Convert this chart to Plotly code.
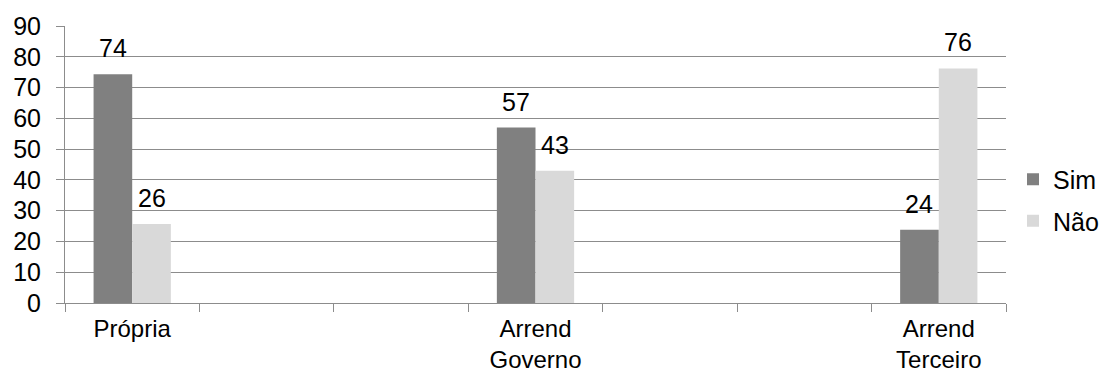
import plotly.graph_objects as go

# Category slots on the axis (the original chart has 7 category slots, only 3 labelled/with data)
axis_categories = ["Própria", " ", "  ", "Arrend<br>Governo", "   ", "    ", "Arrend<br>Terceiro"]
sim_values = [74.3, None, None, 57.0, None, None, 23.8]
nao_values = [25.7, None, None, 43.0, None, None, 76.2]
series_names = ["Sim", "Não"]
y_ticks = [0, 10, 20, 30, 40, 50, 60, 70, 80, 90]

SIM_COLOR = "#808080"
NAO_COLOR = "#D9D9D9"
GRID = "#8C8C8C"
FONT = "Liberation Sans, Arial, sans-serif"
FS = 25

W, H = 1104, 376
ML, MR, MT, MB = 65, 98, 26, 73
BARGAP = 0.425

fig = go.Figure()
fig.add_bar(x=axis_categories, y=sim_values, name=series_names[0],
            marker=dict(color=SIM_COLOR, line=dict(width=0)), legendgroup="a")
fig.add_bar(x=axis_categories, y=nao_values, name=series_names[1],
            marker=dict(color=NAO_COLOR, line=dict(width=0)), legendgroup="b")

# data labels above bars
plot_w = W - ML - MR
cat_w = plot_w / len(axis_categories)
bar_w = cat_w * (1 - BARGAP) / 2
annotations = []
for vals, shift in ((sim_values, -bar_w / 2), (nao_values, bar_w / 2)):
    for cat, v in zip(axis_categories, vals):
        if v is None:
            continue
        annotations.append(dict(x=cat, y=v, xref="x", yref="y", text=f"{v:.0f}",
                                showarrow=False, xshift=shift, yshift=10,
                                yanchor="bottom", xanchor="center",
                                font=dict(family=FONT, size=FS, color="#000000")))

fig.update_layout(
    width=W, height=H,
    margin=dict(l=ML, r=MR, t=MT, b=MB, pad=0, autoexpand=False),
    paper_bgcolor="white", plot_bgcolor="white",
    font=dict(family=FONT, size=FS, color="#000000"),
    barmode="group", bargap=BARGAP, bargroupgap=0,
    showlegend=True,
    legend=dict(xref="container", x=1013 / W, xanchor="left",
                yref="container", y=1 - 200 / H, yanchor="middle",
                font=dict(family=FONT, size=FS, color="#000000"),
                traceorder="grouped", tracegroupgap=6,
                bgcolor="rgba(0,0,0,0)", borderwidth=0),
    annotations=annotations,
    xaxis=dict(type="category", categoryorder="array", categoryarray=axis_categories,
               range=[-0.5, len(axis_categories) - 0.5],
               tickson="boundaries", ticks="outside", ticklen=8, tickwidth=1,
               tickcolor=GRID, showline=True, linecolor=GRID, linewidth=1,
               showgrid=False, zeroline=False, fixedrange=True,
               tickfont=dict(family=FONT, size=24, color="#000000"),
               ticklabelstandoff=4),
    yaxis=dict(range=[0, 90], tickvals=y_ticks, ticks="outside", ticklen=8,
               tickwidth=1, tickcolor=GRID, showline=True, linecolor=GRID,
               linewidth=1, showgrid=True, gridcolor=GRID, gridwidth=1,
               zeroline=False, ticklabelstandoff=10, fixedrange=True),
)

fig.write_html("out.html")
